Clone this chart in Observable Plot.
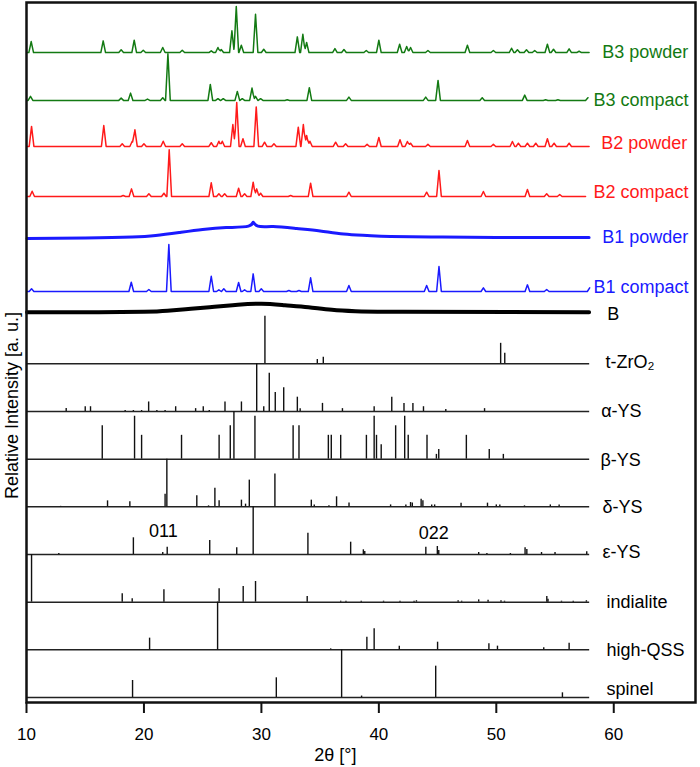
<!DOCTYPE html>
<html><head><meta charset="utf-8">
<script src="https://cdn.jsdelivr.net/npm/d3@7"></script>
<script src="https://cdn.jsdelivr.net/npm/@observablehq/plot@0.6"></script>
<style>body{margin:0;background:#fff} svg{display:block}</style>
</head><body><div id="chart"></div>
<script>
// ---------- DATA (2θ in degrees, intensity in relative units; 100 = full reference stick) ----------
const xTicks = [10, 20, 30, 40, 50, 60];

// measured patterns: [2θ, peak height]
const B3powder = [[10.4,23],[16.53,24.5],[18.06,5.7],[19.17,25.8],[19.94,4.8],[21.6,10.5],[23.26,4.8],[25.73,3.6],[26.3,10.5],[26.58,6.3],[27.49,45.5],[27.86,96.5],[28.29,15.3],[29.5,80.4],[30.2,6.9],[33.06,32.9],[33.53,38.4],[33.85,21],[36.26,8.4],[37.03,6.3],[38.93,4.2],[40.0,25.8],[41.77,17.4],[42.37,12.6],[42.7,10.5],[44.18,4.2],[47.54,15.3],[49.75,4.2],[51.3,9],[51.8,5.7],[52.57,5.7],[53.27,4.2],[54.35,17.4],[54.87,6.9],[56.2,7.8],[57.05,2.7]];
const B3compact = [[10.34,8.4],[18.06,4.8],[18.86,15.3],[20.3,2.7],[21.6,5.7],[22.04,98],[25.65,33.6],[26.3,3.6],[26.75,3.6],[27.95,18.9],[28.37,3.6],[29.2,25.8],[29.5,8.4],[29.93,3.6],[32.2,1.5],[34.08,26.6],[37.45,6.9],[43.99,6.9],[45.04,42],[48.8,5.7],[52.42,11.1],[54.2,1.5],[55.25,1.5],[57.8,5.7]];
const B2powder = [[10.43,42],[16.58,44],[18.15,5.7],[19.0,11],[19.23,35],[20.0,5.7],[21.64,11],[23.26,5.7],[25.73,7.8],[26.38,11],[26.67,11],[27.57,46],[27.9,92],[28.43,16],[29.56,83],[30.27,9],[31.07,5.7],[33.14,40.5],[33.57,46],[33.85,23],[34.13,11],[36.32,9],[37.17,5.7],[39.0,4.8],[40.0,19],[41.8,14],[42.43,10.5],[42.7,6.9],[44.18,4.8],[47.54,12.6],[49.75,4.8],[51.37,10.5],[51.88,6.9],[52.65,6.9],[53.36,6.9],[54.35,16],[54.92,6.9],[56.2,6.9]];
const B2compact = [[10.48,11],[18.23,2.1],[18.94,16],[20.42,5.7],[21.7,6.9],[22.15,98],[25.73,28.7],[26.38,5.7],[26.87,5.7],[28.06,17.4],[28.57,5.7],[29.3,30],[29.6,16],[29.93,6.9],[32.49,2.1],[34.19,28],[37.45,9],[44.07,9],[45.12,54.5],[48.9,10.5],[52.65,14.7],[54.29,5.7],[55.4,4.2]];
const B1compact = [[10.43,5.7],[18.92,19.5],[20.42,4.2],[22.12,98.6],[25.73,32],[26.38,3.6],[26.8,5.7],[28.06,18.9],[28.57,3.6],[29.3,37],[29.99,5.7],[32.34,2.1],[33.2,2.1],[34.19,28.7],[37.45,12.6],[44.07,12.6],[45.12,52.5],[48.9,7.8],[52.65,14],[54.29,4.2],[57.95,7.8]];
// amorphous patterns: [2θ, intensity] along the hump
const B1powder = [[10.05,0],[15,1],[19,3],[21,6.3],[23,12.6],[25,19],[27,23],[28.9,26],[29.3,34],[29.7,26],[31,25],[33,21],[35,15.7],[37,9.4],[39,6.3],[41,4.2],[45,3.1],[50,2.1],[57.9,2.1]];
const Bamorph = [[10.05,0],[15,0],[20,1],[22,3.1],[24,7.3],[26,11.5],[28,15.7],[30,17.8],[32,14.7],[34,10.5],[36,5.2],[38,2.1],[42,1],[57.9,0]];

// reference stick patterns: [2θ, relative intensity]
const tZrO2 = [[30.3,100],[34.76,9],[35.27,14],[50.37,43],[50.72,22]];
const alphaYS = [[13.38,6.3],[15.0,10],[15.45,10],[18.4,2],[19.1,2],[19.8,2],[20.4,20],[21.1,2],[21.8,2],[22.7,10],[24.4,6],[25.05,10],[25.56,2],[26.9,20],[28.3,20],[29.6,100],[30.2,10],[30.67,80],[31.18,40],[31.9,50],[33.06,30],[33.3,6],[35.2,17],[36.9,6],[39.6,10],[41.1,30],[42.14,17],[42.9,17],[43.8,10],[45.7,4],[49.0,6]];
const betaYS = [[16.45,70],[19.2,90],[19.8,50],[23.2,50],[26.4,50],[27.35,70],[27.66,100],[29.45,90],[32.7,70],[33.2,70],[35.7,50],[35.95,50],[36.75,50],[38.94,50],[39.6,90],[39.8,50],[40.2,30],[41.43,70],[42.2,90],[42.5,50],[44.1,50],[44.9,10],[45.1,20],[47.45,50],[49.4,20],[50.6,10]];
const deltaYS = [[12.9,1],[16.9,12.5],[18.8,10.5],[21.8,26.6],[21.95,100],[24.5,23],[25.5,2],[26.04,39],[26.4,12.5],[28.3,14],[28.65,5.6],[28.97,56],[31.15,68.6],[34.25,14],[34.5,4],[35.75,2],[36.4,21],[37.46,8],[41.0,4],[42.3,4],[42.7,9],[42.85,8],[43.6,16],[43.75,12.5],[44.5,4],[44.75,4],[47.0,7.7],[49.25,7.7],[50.0,4],[50.3,4],[52.4,2],[54.6,4],[55.35,4]];
const epsilonYS = [[12.75,2],[19.1,35],[21.6,4],[21.98,15.3],[25.6,29.4],[27.9,14],[29.3,100],[33.96,44.7],[37.6,25.8],[38.68,9.8],[38.8,6.3],[44.0,15.3],[44.98,16.8],[45.1,8.4],[48.5,4.2],[49.2,2],[51.2,2],[52.45,14],[52.6,10.5],[53.85,4.2],[55.0,4.2],[57.7,5.7]];
const indialite = [[10.43,100],[18.15,17.4],[19.0,7],[21.7,25.8],[26.4,28],[28.45,33],[29.5,43.4],[33.9,12],[36.75,2],[37.2,2],[38.5,2],[40.4,2],[41.8,2],[43.0,2],[43.2,3],[46.75,3],[47.05,2],[48.5,4.8],[49.3,4.2],[50.4,3],[50.7,2],[54.3,12],[54.4,6.3],[55.55,2],[56.55,2],[57.67,3]];
const highQSS = [[20.48,24.5],[26.27,100],[35.9,2],[38.98,26.6],[39.6,44],[41.74,7.7],[45.0,16],[49.37,12.6],[50.1,7.7],[54.04,4.2],[56.2,14]];
const spinel = [[19.03,35.7],[31.27,41.3],[36.83,100],[38.53,3],[44.84,65.7],[55.63,9.8]];

const measuredNames = ["B3 powder","B3 compact","B2 powder","B2 compact","B1 powder","B1 compact","B"];
const referenceNames = ["t-ZrO₂","α-YS","β-YS","δ-YS","ε-YS","indialite","high-QSS","spinel"];
const millerLabels = ["011","022"];
const millerPos = [21.66, 44.68];
const xTitle = "2θ [°]";
const yTitle = "Relative Intensity [a. u.]";

// ---------- LAYOUT ----------
const offsets = {"B3 powder":1353,"B3 compact":1252.6,"B2 powder":1156,"B2 compact":1051,"B1 powder":962.9,"B1 compact":851.7,"B":808.3,
  "t-ZrO₂":700,"α-YS":600,"β-YS":500,"δ-YS":400,"ε-YS":300,"indialite":200,"high-QSS":100,"spinel":0};
const colors = {"B3 powder":"#137a13","B3 compact":"#137a13","B2 powder":"#ff1a1a","B2 compact":"#ff1a1a","B1 powder":"#1a1aff","B1 compact":"#1a1aff","B":"#000"};
const labelX = {"B3 powder":59.01,"B3 compact":58.27,"B2 powder":58.93,"B2 compact":58.27,"B1 powder":59.01,"B1 compact":58.27,"B":59.44,
  "t-ZrO₂":59.3,"α-YS":58.93,"β-YS":58.87,"δ-YS":59.04,"ε-YS":59.04,"indialite":59.38,"high-QSS":59.38,"spinel":59.38};
const labelDy = {"B3 powder":0,"B3 compact":0,"B2 powder":6.3,"B2 compact":8.4,"B1 powder":2,"B1 compact":8.4,"B":-4.8,
  "t-ZrO₂":3.4,"α-YS":1.5,"β-YS":-1.5,"δ-YS":-1.5,"ε-YS":4.8,"indialite":0,"high-QSS":0,"spinel":18};
const ranges = {"B3 powder":[10.05,57.9],"B3 compact":[10.05,57.8],"B2 powder":[10.05,57.9],"B2 compact":[10.05,57.6],"B1 compact":[10.05,57.95]};

// ---------- BUILD ----------
const HW = 0.2; // drawn peak half-width (degrees)
function trace(name, peaks) {
  const [a, b] = ranges[name];
  const xs = new Set([a, b]);
  for (const [p] of peaks) { xs.add(p - HW); xs.add(p); xs.add(p + HW); }
  return [...xs].filter(x => x >= a && x <= b).sort((u, v) => u - v)
    .map(x => ({name, x, y: offsets[name] + peaks.reduce((s, [p, h]) => s + Math.max(0, h * (1 - Math.abs(x - p) / HW)), 0)}));
}
const peakSets = {"B3 powder":B3powder,"B3 compact":B3compact,"B2 powder":B2powder,"B2 compact":B2compact,"B1 compact":B1compact};
const traces = Object.entries(peakSets).flatMap(([n, p]) => trace(n, p));
const humpB1 = B1powder.map(([x, y]) => ({name:"B1 powder", x, y: offsets["B1 powder"] + y}));
const humpB = Bamorph.map(([x, y]) => ({name:"B", x, y: offsets["B"] + y}));

const refSets = [tZrO2, alphaYS, betaYS, deltaYS, epsilonYS, indialite, highQSS, spinel];
const sticks = refSets.flatMap((s, i) => s.map(([x, h]) => ({name: referenceNames[i], x, y1: offsets[referenceNames[i]], y2: offsets[referenceNames[i]] + h})));
const baselines = referenceNames.map(n => ({name: n, y: offsets[n]}));
const labels = [...measuredNames, ...referenceNames].map(n => ({text: n, x: labelX[n], y: offsets[n] + labelDy[n], color: colors[n] || "#000"}));
const miller = millerLabels.map((t, i) => ({text: t, x: millerPos[i], y: [348.9, 344.7][i]}));
const titles = [{text: xTitle, x: 36.3, y: -121.7}, {text: yTitle, x: 8.77, y: 612.5}];

const FONT = "'Liberation Sans', Arial, Helvetica, sans-serif";
const plot = Plot.plot({
  width: 700, height: 767,
  marginLeft: 26, marginRight: 5, marginTop: 2, marginBottom: 65,
  x: {domain: [10, 66.96]},
  y: {domain: [-10.5, 1458], axis: null},
  style: {fontFamily: FONT, fontSize: "17px", background: "#fff", color: "#000"},
  marks: [
    Plot.ruleY(baselines, {y: "y", x1: 10, x2: 57.95, stroke: "#222", strokeWidth: 1.5}),
    Plot.ruleX(sticks, {x: "x", y1: "y1", y2: "y2", stroke: "#111", strokeWidth: 1.4}),
    Plot.line(humpB, {x: "x", y: "y", stroke: "#000", strokeWidth: 4, curve: "natural"}),
    Plot.line(humpB1, {x: "x", y: "y", stroke: "#1a1aff", strokeWidth: 3, curve: "natural"}),
    Plot.line(traces, {x: "x", y: "y", z: "name", stroke: d => colors[d.name], strokeWidth: 1.5, strokeLinejoin: "round"}),
    Plot.text(labels, {x: "x", y: "y", text: "text", fill: d => d.color, textAnchor: "start", fontSize: 18}),
    Plot.text(miller, {x: "x", y: "y", text: "text", fill: "#000", fontSize: 18}),
    Plot.text(titles.slice(0, 1), {x: "x", y: "y", text: "text", fontSize: 18, fill: "#000"}),
    Plot.text(titles.slice(1), {x: "x", y: "y", text: "text", rotate: -90, fontSize: 18, fill: "#000"}),
    Plot.axisX({ticks: xTicks, tickSize: 11, tickPadding: 14, fontSize: 17, strokeWidth: 2, label: null, stroke: "#111"}),
    Plot.frame({stroke: "#111", strokeWidth: 2.5})
  ]
});
document.getElementById("chart").appendChild(plot);
</script>
</body></html>
